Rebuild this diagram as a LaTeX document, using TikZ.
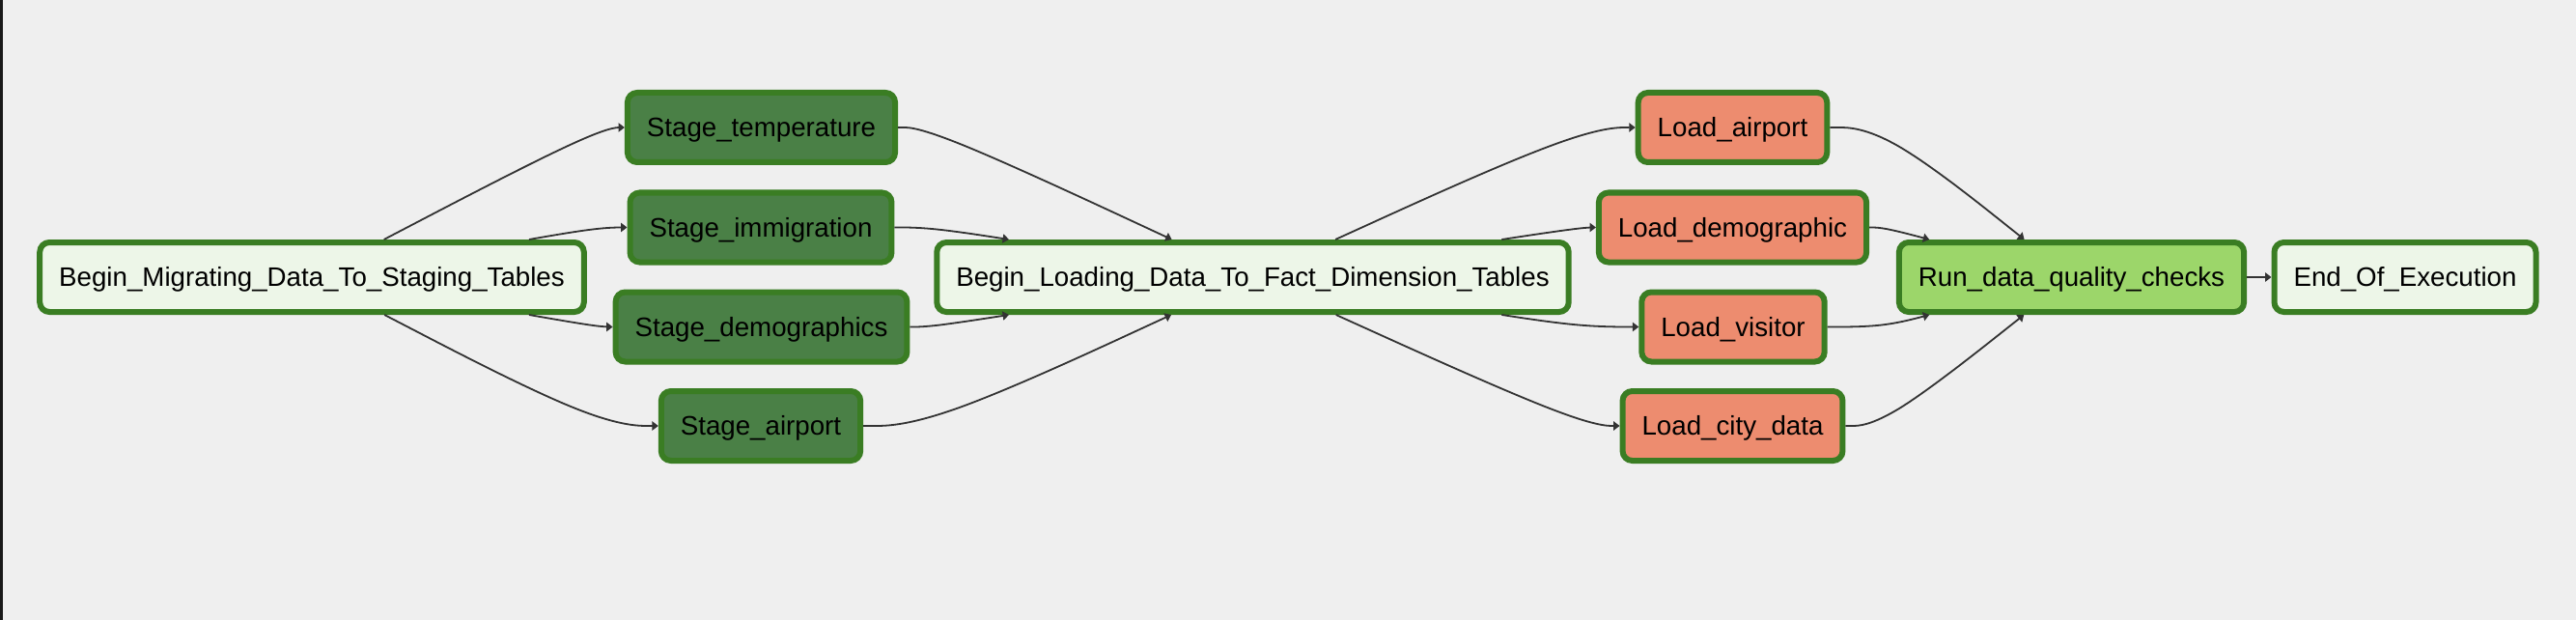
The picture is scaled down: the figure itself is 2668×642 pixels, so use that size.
\documentclass[tikz,border=0pt]{standalone}
\usepackage{fontspec}
\usetikzlibrary{calc,arrows.meta}
\newfontfamily\taskfont{Liberation Sans}
\newcommand\tasktext{\taskfont\fontsize{13.85pt}{16pt}\selectfont}
\definecolor{bgcol}{HTML}{EFEFEF}
\definecolor{bordergreen}{HTML}{3A7D23}
\definecolor{lightfill}{HTML}{EDF6E8}
\definecolor{stagefill}{HTML}{4A8046}
\definecolor{loadfill}{HTML}{ED8C6F}
\definecolor{checkfill}{HTML}{9CD66A}
\definecolor{edgegray}{HTML}{333333}
\tikzset{
  task/.style={draw=bordergreen, line width=3pt, rounded corners=5pt,
    minimum height=36pt, inner xsep=10pt, text height=9.9pt, text depth=0pt,
    font=\tasktext, text=black},
  dummyop/.style={task, fill=lightfill},
  stageop/.style={task, fill=stagefill},
  loadop/.style={task, fill=loadfill},
  checkop/.style={task, fill=checkfill},
  edge/.style={draw=edgegray, line width=0.9pt, -{Triangle[length=3.2pt,width=4.6pt]}},
}
% source, target, dummy point (dagre style basis curve)
\newcommand\dagedge[3]{%
  \path (#1) -- (#3) coordinate[pos=0] (eP0);
  \path (#2) -- (#3) coordinate[pos=0] (eP2);
  \coordinate (eP1) at (#3);
  \draw[edge] (eP0) -- ($0.8333*(eP0)+0.1667*(eP1)$)
    .. controls ($0.6667*(eP0)+0.3333*(eP1)$) and ($0.3333*(eP0)+0.6667*(eP1)$)
    .. ($0.1667*(eP0)+0.6667*(eP1)+0.1667*(eP2)$)
    .. controls ($0.6667*(eP1)+0.3333*(eP2)$) and ($0.3333*(eP1)+0.6667*(eP2)$)
    .. ($0.1667*(eP1)+0.8333*(eP2)$) -- (eP2);
}
\begin{document}
\begin{tikzpicture}[x=0.5pt,y=-0.5pt]
\useasboundingbox (0,0) rectangle (2668,642);
\fill[bgcol] (0,0) rectangle (2668,642);
\fill[black!90] (0,0) rectangle (3,642);

\node[dummyop] (mig) at (323,287) {Begin\_Migrating\_Data\_To\_Staging\_Tables};
\node[stageop] (sttemp) at (788.5,132) {Stage\_temperature};
\node[stageop] (stimm) at (788,235.5) {Stage\_immigration};
\node[stageop] (stdemo) at (788.5,338.5) {Stage\_demographics};
\node[stageop] (stair) at (788,441) {Stage\_airport};
\node[dummyop] (ld) at (1297.5,287) {Begin\_Loading\_Data\_To\_Fact\_Dimension\_Tables};
\node[loadop] (lair) at (1794.5,132) {Load\_airport};
\node[loadop] (ldemo) at (1794.5,235.5) {Load\_demographic};
\node[loadop] (lvis) at (1795,338.5) {Load\_visitor};
\node[loadop] (lcity) at (1794.5,441) {Load\_city\_data};
\node[checkop] (run) at (2145.5,287) {Run\_data\_quality\_checks};
\node[dummyop] (end) at (2491,287) {End\_Of\_Execution};

\dagedge{mig}{sttemp}{620,132}
\dagedge{mig}{stimm}{620,235.5}
\dagedge{mig}{stdemo}{620,338.5}
\dagedge{mig}{stair}{620,441}

\dagedge{sttemp}{ld}{964,132}
\dagedge{stimm}{ld}{964,235.5}
\dagedge{stdemo}{ld}{964,338.5}
\dagedge{stair}{ld}{964,441}

\dagedge{ld}{lair}{1638,132}
\dagedge{ld}{ldemo}{1638,235.5}
\dagedge{ld}{lvis}{1638,338.5}
\dagedge{ld}{lcity}{1638,441}

\dagedge{lair}{run}{1951,132}
\dagedge{ldemo}{run}{1951,235.5}
\dagedge{lvis}{run}{1951,338.5}
\dagedge{lcity}{run}{1951,441}

\draw[edge] (run) -- (end);
\end{tikzpicture}
\end{document}
